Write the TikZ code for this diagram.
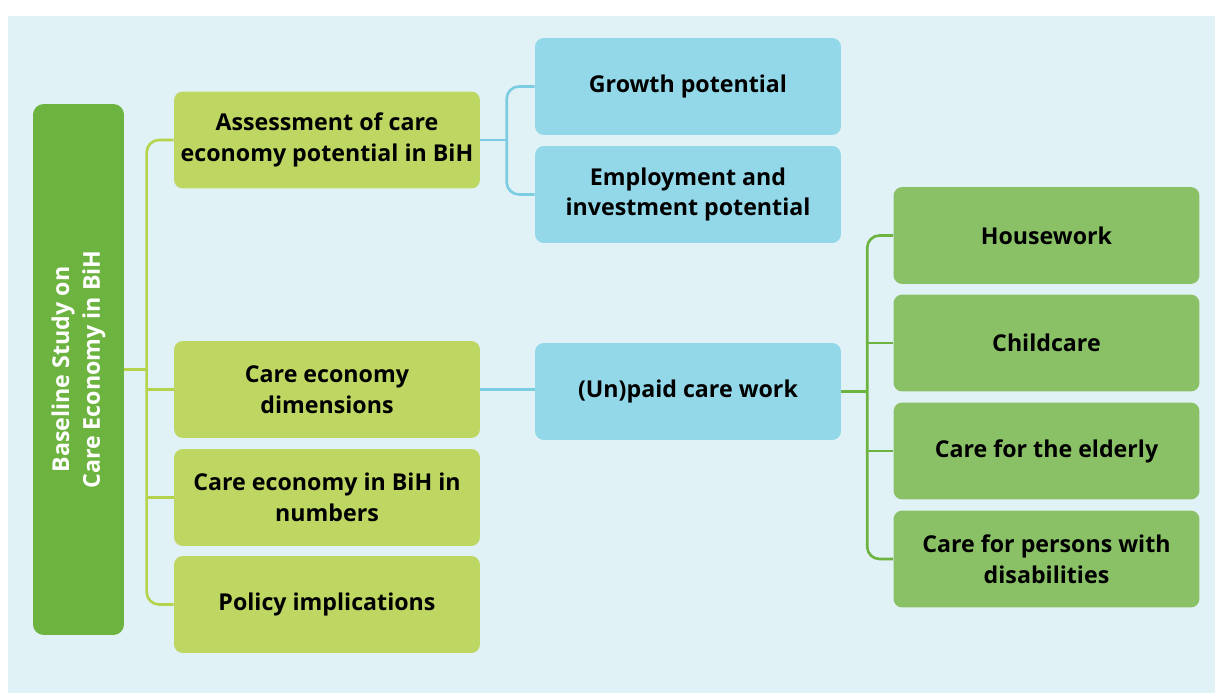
\documentclass[tikz,border=0pt]{standalone}
\usepackage{fontspec}
\setmainfont{Open Sans}
\usetikzlibrary{positioning,calc}

\definecolor{bgblue}{HTML}{E1F2F7}
\definecolor{rootgreen}{HTML}{6DB33F}
\definecolor{lightgreen}{HTML}{BDD762}
\definecolor{skyblue}{HTML}{93D8E8}
\definecolor{midgreen}{HTML}{8BC166}
\definecolor{lgline}{HTML}{B5D44C}
\definecolor{blueline}{HTML}{7CCDE2}

\begin{document}
\begin{tikzpicture}
  [x=0.02cm,y=-0.02cm,
   box/.style={rectangle,rounded corners=5pt,minimum width=6.12cm,minimum height=1.94cm,
               align=center,font=\fontsize{13.2}{17.6}\selectfont\bfseries,text=black},
   levelA/.style={box,fill=lightgreen},
   levelB/.style={box,fill=skyblue},
   levelC/.style={box,fill=midgreen},
   link/.style={line width=1.5pt,rounded corners=7pt}]

  \useasboundingbox (0,0) rectangle (1215,693);
  \fill[bgblue] (8,16) rectangle (1215,693);

  % rotated, so width runs down the page
  \node[rectangle,rounded corners=6pt,fill=rootgreen,minimum width=10.62cm,minimum height=1.82cm,
        rotate=90,align=center,text=white,font=\fontsize{13.2}{17.6}\selectfont\bfseries]
        (root) at (78.5,369.5) {Baseline Study on\\Care Economy in BiH};

  \node[levelA] (assess)  at (327,140)   {Assessment of care\\economy potential in BiH};
  \node[levelA] (dims)    at (327,389.5) {Care economy\\dimensions};
  \node[levelA] (numbers) at (327,497.5) {Care economy in BiH in\\numbers};
  \node[levelA] (policy)  at (327,604.5) {Policy implications};

  \node[levelB] (growth) at (688,86.5)  {Growth potential};
  \node[levelB] (employ) at (688,194.5) {Employment and\\investment potential};
  \node[levelB] (unpaid) at (688,391.5) {(Un)paid care work};

  \node[levelC] (house)    at (1046.5,235.5) {Housework};
  \node[levelC] (child)    at (1046.5,343)   {Childcare};
  \node[levelC] (elderly)  at (1046.5,451)   {Care for the elderly};
  \node[levelC] (disabled) at (1046.5,559)   {Care for persons with\\disabilities};

  % root branches
  \draw[link,lgline] (assess.west) -- ++(-27,0) |- (policy.west);
  \draw[link,lgline] (root.south) -- ++(23,0);
  \draw[link,lgline] (dims.west) -- ++(-27,0);
  \draw[link,lgline] (numbers.west) -- ++(-27,0);

  % assessment branches
  \draw[link,blueline] (growth.west) -- ++(-28,0) |- (employ.west);
  \draw[link,blueline] (assess.east) -- ++(27,0);

  \draw[link,blueline] (dims.east) -- (dims.east -| unpaid.west);

  % care work branches
  \draw[link,rootgreen] (house.west) -- ++(-26,0) |- (disabled.west);
  \draw[link,rootgreen] (unpaid.east) -- ++(26,0);
  \draw[link,rootgreen] (child.west) -- ++(-26,0);
  \draw[link,rootgreen] (elderly.west) -- ++(-26,0);
\end{tikzpicture}
\end{document}
